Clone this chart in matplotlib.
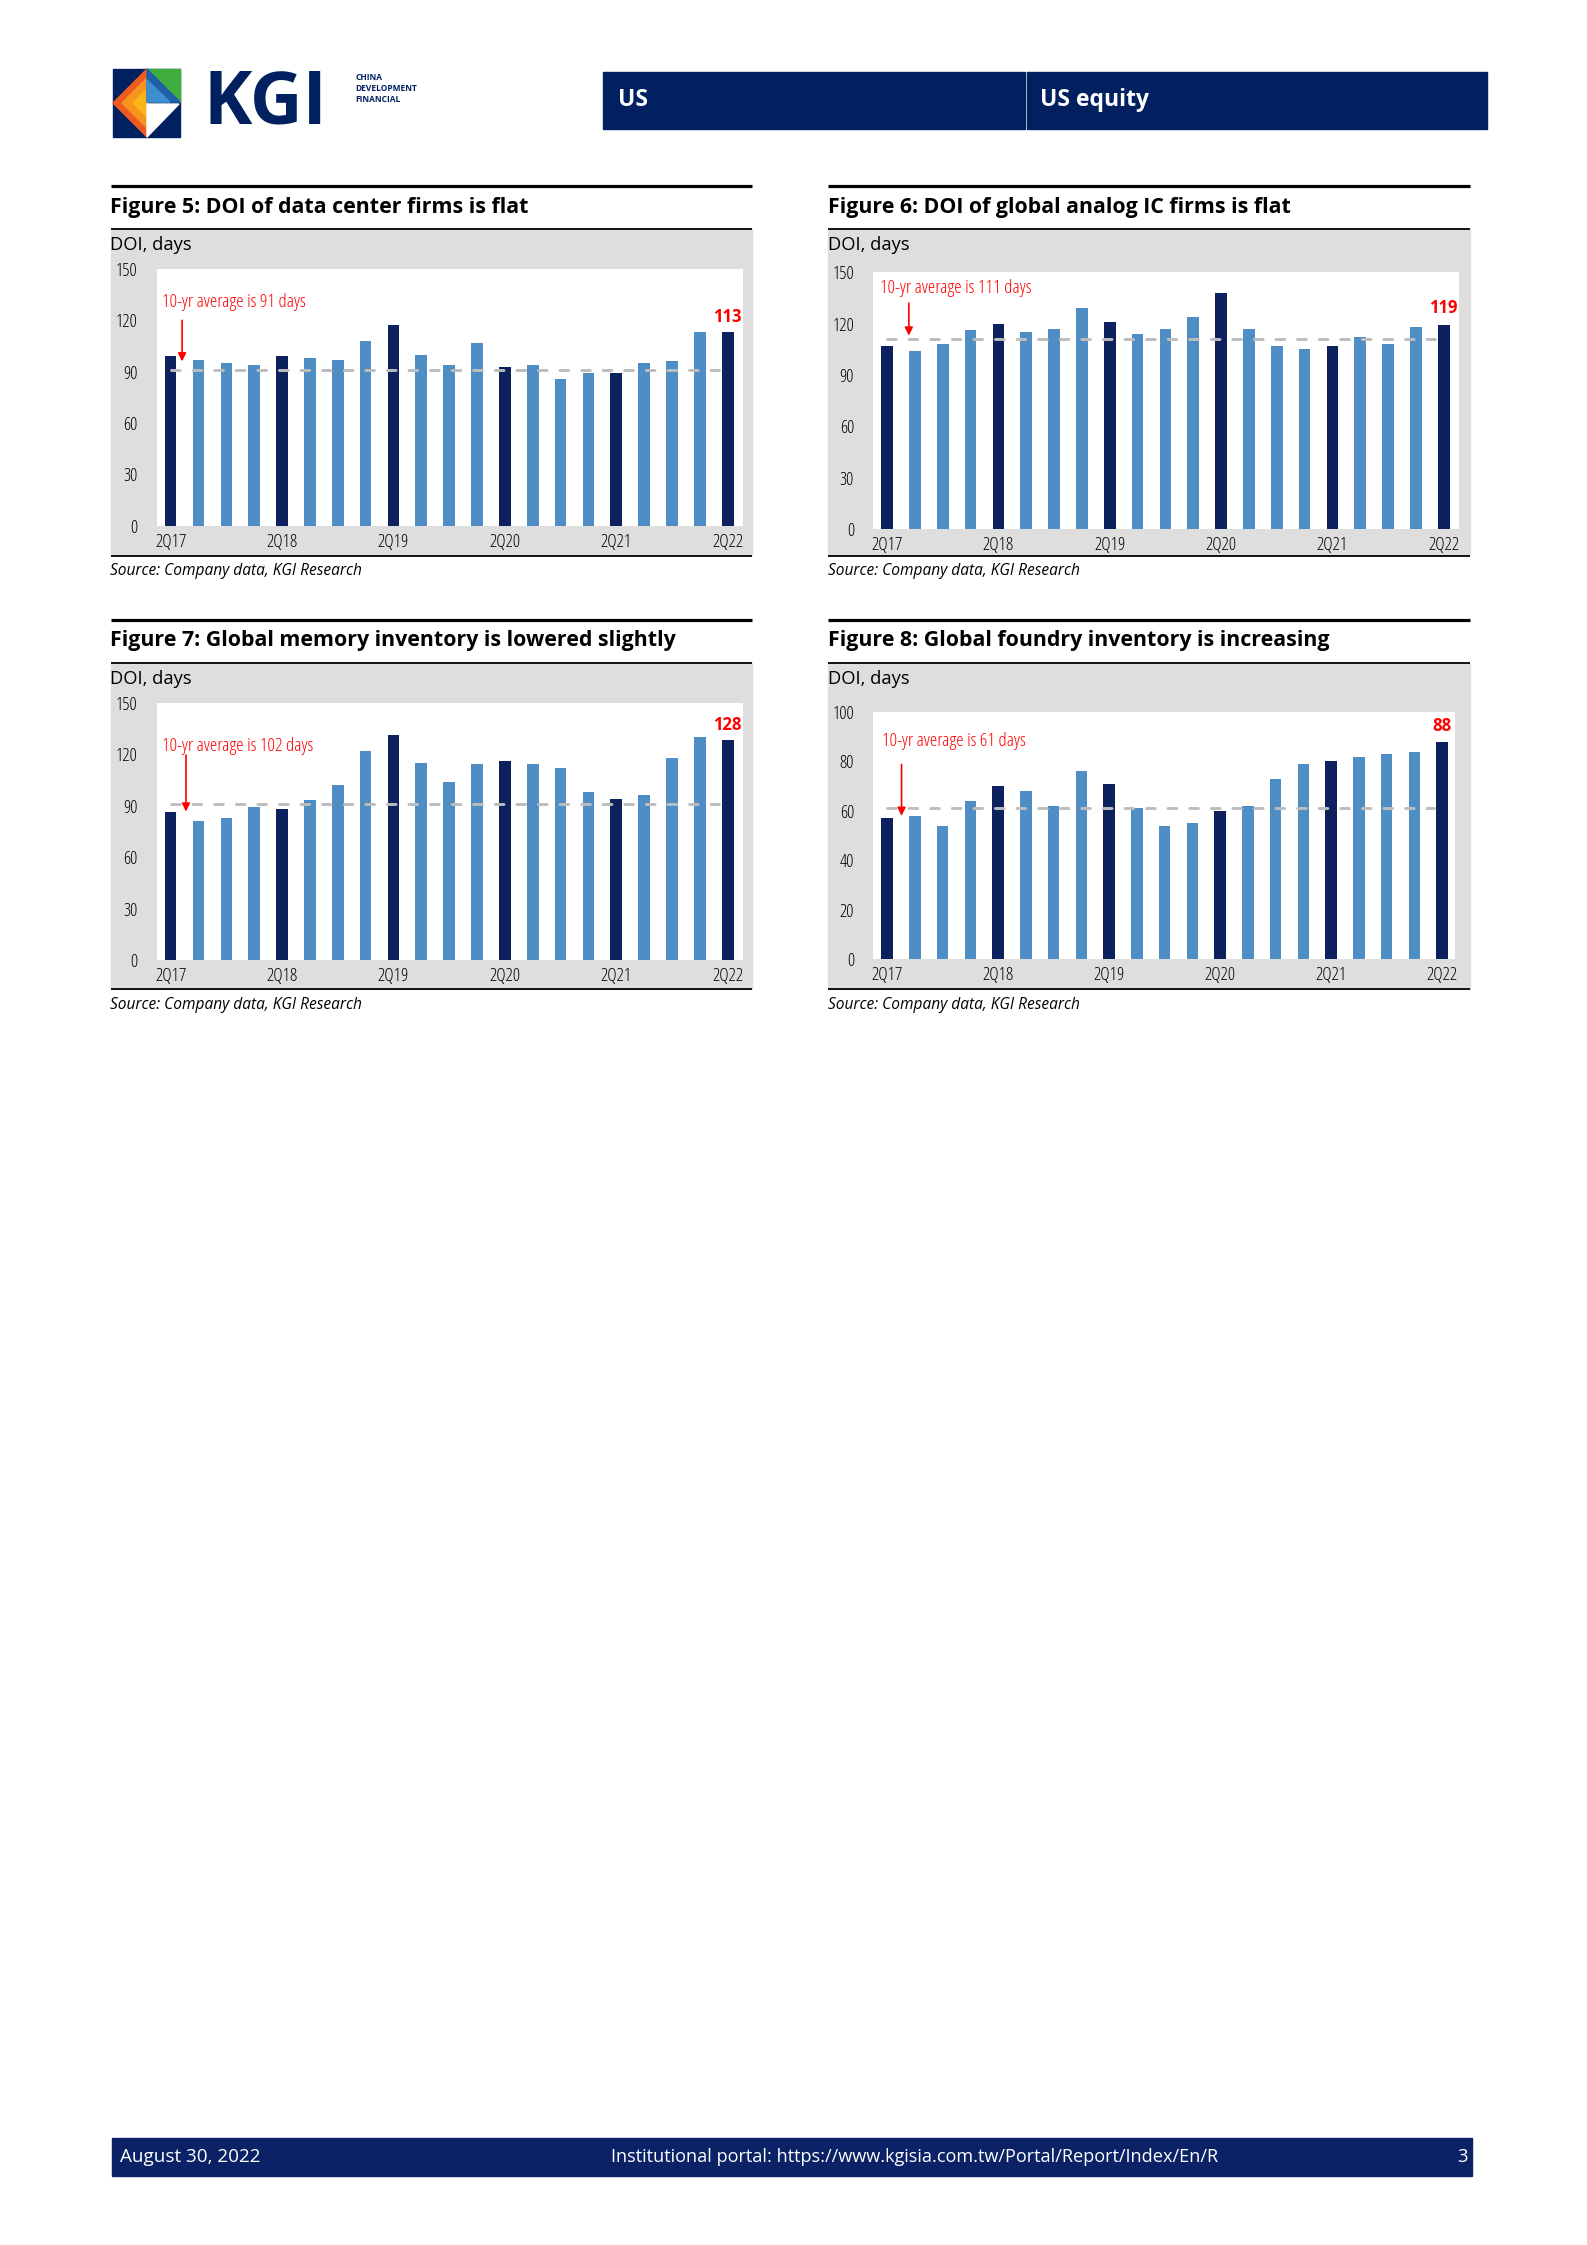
import numpy as np
import matplotlib.pyplot as plt
from matplotlib.patches import Rectangle, Polygon

W, H = 1587, 2245

quarters = ['2Q17', '3Q17', '4Q17', '1Q18', '2Q18', '3Q18', '4Q18', '1Q19', '2Q19', '3Q19', '4Q19',
            '1Q20', '2Q20', '3Q20', '4Q20', '1Q21', '2Q21', '3Q21', '4Q21', '1Q22', '2Q22']

# days of inventory
dc_doi = [99, 97, 95, 94, 99, 98, 97, 108, 117, 100, 94, 107, 93, 94, 86, 89, 89, 95, 96, 113, 113]
analog_doi = [107, 104, 108, 116, 120, 115, 117, 129, 121, 114, 117, 124, 138, 117, 107, 105, 107, 112, 108, 118, 119]
memory_doi = [86, 81, 83, 89, 88, 93, 102, 122, 131, 115, 104, 114, 116, 114, 112, 98, 94, 96, 118, 130, 128]
foundry_doi = [57, 58, 54, 64, 70, 68, 62, 76, 71, 61, 54, 55, 60, 62, 73, 79, 80, 82, 83, 84, 88]

avg_days = [91, 111, 102, 61]      # what the note says
avg_line = [91, 111, 91, 61]       # where the dashed line sits

titles = ['Figure 5: DOI of data center firms is flat',
          'Figure 6: DOI of global analog IC firms is flat',
          'Figure 7: Global memory inventory is lowered slightly',
          'Figure 8: Global foundry inventory is increasing']

DOC = ['Open Sans', 'DejaVu Sans']
NAVY = '#002060'
DARK = '#0C215E'
LIGHT = '#4F8EC4'
GRAY = '#DEDEDE'
COND = dict(family=DOC, stretch='condensed')

fig = plt.figure(figsize=(W / 100, H / 100), dpi=100)
ov = fig.add_axes([0, 0, 1, 1], zorder=0)
ov.set_xlim(0, W)
ov.set_ylim(H, 0)
ov.axis('off')

# ---- header ----
ov.add_patch(Rectangle((113, 69), 67, 68, color=NAVY))
ov.add_patch(Polygon([(113, 103), (147, 69), (147, 137)], color='#EE5A1F'))
ov.add_patch(Polygon([(122, 103), (147, 78), (147, 128)], color='#F7941D'))
ov.add_patch(Polygon([(133, 103), (147, 89), (147, 117)], color='#FBB316'))
ov.add_patch(Polygon([(147, 69), (180, 69), (180, 102)], color='#3FAE3F'))
ov.add_patch(Polygon([(147, 69), (180, 102), (147, 102)], color='#1F5FA8'))
ov.add_patch(Polygon([(147, 80), (170, 102), (147, 102)], color='#3E8FD0'))
ov.add_patch(Polygon([(147, 104), (179, 104), (147, 137)], color='white'))
ov.text(203, 104, 'KGI', color=NAVY, fontsize=52.5, fontweight='bold', family=DOC,
        va='center', ha='left')
ov.text(355, 73, 'CHINA\nDEVELOPMENT\nFINANCIAL', color=NAVY, fontsize=6, fontweight='bold',
        family=DOC, va='top', ha='left', linespacing=1.25)

ov.add_patch(Rectangle((603, 72), 422, 57, color=NAVY))
ov.add_patch(Rectangle((1027, 72), 460, 57, color=NAVY))
ov.text(618, 100, 'US', color='white', fontsize=16.5, fontweight='bold', family=DOC, va='center')
ov.text(1040, 100, 'US equity', color='white', fontsize=16.5, fontweight='bold', family=DOC, va='center')

# ---- footer ----
ov.add_patch(Rectangle((112, 2138), 1360, 38, color='#0B2366'))
ov.text(120, 2157, 'August 30, 2022', color='white', fontsize=13.6, family=DOC, va='center')
ov.text(915, 2157, 'Institutional portal: https://www.kgisia.com.tw/Portal/Report/Index/En/R',
        color='white', fontsize=13.1, family=DOC, va='center', ha='center')
ov.text(1468, 2157, '3', color='white', fontsize=13.3, family=DOC, va='center', ha='right')

# ---- charts ----
charts = [
    dict(vals=dc_doi, x0=110.5, x1=752, ytop=186, plot=(157, 743, 269, 525.7), ymax=150, step=30,
         txt=(-0.32, 131), arr=(0.41, 120, 96), lab=122),
    dict(vals=analog_doi, x0=827.6, x1=1470, ytop=186, plot=(873.5, 1459, 272.3, 529), ymax=150, step=30,
         txt=(-0.26, 140.6), arr=(0.78, 132, 113), lab=129),
    dict(vals=memory_doi, x0=110.5, x1=752, ytop=619.7, plot=(157, 743, 702.7, 960), ymax=150, step=30,
         txt=(-0.32, 125), arr=(0.55, 119.5, 86.5), lab=137),
    dict(vals=foundry_doi, x0=827.6, x1=1470, ytop=619.7, plot=(873.5, 1455.5, 712, 959.3), ymax=100, step=20,
         txt=(-0.17, 88.3), arr=(0.52, 78.8, 58), lab=94.5),
]

x = np.arange(len(quarters))
colors = [DARK if q.startswith('2Q') else LIGHT for q in quarters]

for k, c in enumerate(charts):
    x0, x1, yt = c['x0'], c['x1'], c['ytop']
    # frame: thick rule, title, thin rule, grey panel, bottom rule, source
    ov.plot([x0, x1], [yt, yt], color='black', lw=2.3, solid_capstyle='butt')
    ov.text(x0, yt + 21, titles[k], fontsize=15.4, fontweight='bold', family=DOC, va='center')
    ov.add_patch(Rectangle((x0, yt + 43), x1 - x0, 326, color=GRAY, zorder=0))
    ov.plot([x0, x1], [yt + 43, yt + 43], color='black', lw=1.3, solid_capstyle='butt')
    ov.plot([x0, x1], [yt + 369.5, yt + 369.5], color='black', lw=1.3, solid_capstyle='butt')
    ov.text(x0, yt + 385, 'Source: Company data, KGI Research', fontsize=11.2, style='italic',
            family=DOC, va='center')
    ov.text(x0, yt + 59, 'DOI, days', fontsize=13.2, family=DOC, va='center')

    px0, px1, py0, py1 = c['plot']
    ax = fig.add_axes([px0 / W, 1 - py1 / H, (px1 - px0) / W, (py1 - py0) / H], zorder=2)
    ax.set_facecolor('white')
    ax.bar(x, c['vals'], width=0.42, color=colors, zorder=2)
    ax.hlines(avg_line[k], 0, 19.7, colors='#BDBDBD', lw=2.1, linestyles=(0, (3.0, 4.4)),
              capstyle='round', zorder=3)
    ax.set_xlim(-0.49, 20.55 if k != 3 else 20.48)
    ax.set_ylim(0, c['ymax'])
    ax.set_yticks(np.arange(0, c['ymax'] + 1, c['step']))
    ax.set_xticks(x[::4])
    ax.set_xticklabels(quarters[::4])
    ax.tick_params(length=0, labelsize=13, labelcolor='black')
    ax.tick_params(axis='y', pad=14)
    ax.tick_params(axis='x', pad=5)
    for lab in ax.get_xticklabels() + ax.get_yticklabels():
        lab.set_family(DOC)
        lab.set_stretch('condensed')
    for sp in ax.spines.values():
        sp.set_visible(False)

    tx, ty = c['txt']
    ax.text(tx, ty, '10-yr average is %d days' % avg_days[k], color='red', fontsize=13.5,
            va='center', ha='left', **COND)
    axx, ay0, ay1 = c['arr']
    ax.annotate('', xy=(axx, ay1), xytext=(axx, ay0),
                arrowprops=dict(arrowstyle='-|>', color='red', lw=1.2, mutation_scale=12,
                                shrinkA=0, shrinkB=0))
    ax.text(x[-1], c['lab'], '%d' % c['vals'][-1], color='red', fontsize=12, fontweight='bold',
            va='center', ha='center', family=DOC)

fig.savefig('out.png', dpi=100)
